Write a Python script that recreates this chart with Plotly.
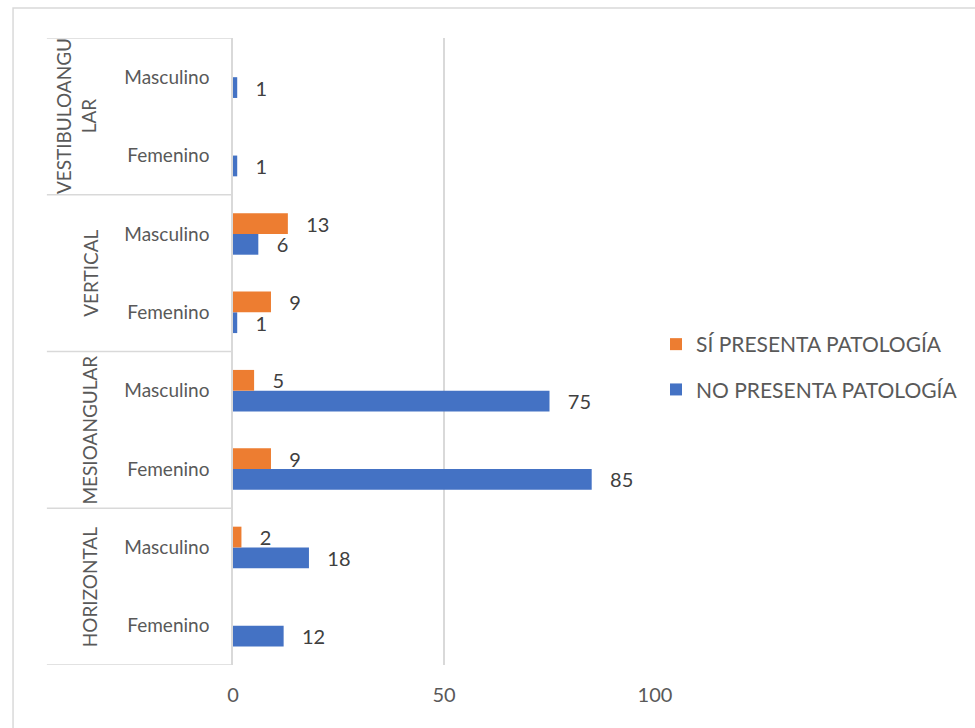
import plotly.graph_objects as go

# Impaction type (group) and sex (sub-category), bottom to top
groups = ["HORIZONTAL", "MESIOANGULAR", "VERTICAL", "VESTIBULOANGULAR"]
group_labels = ["HORIZONTAL", "MESIOANGULAR", "VERTICAL", "VESTIBULOANGU<br>LAR"]
sexes = ["Femenino", "Masculino"]

# Counts per group, in the order Femenino, Masculino
no_patologia = {
    "HORIZONTAL": [12, 18],
    "MESIOANGULAR": [85, 75],
    "VERTICAL": [1, 6],
    "VESTIBULOANGULAR": [1, 1],
}
si_patologia = {
    "HORIZONTAL": [None, 2],
    "MESIOANGULAR": [9, 5],
    "VERTICAL": [9, 13],
    "VESTIBULOANGULAR": [None, None],
}

x_ticks = [0, 50, 100]

cat_keys = [f"{g}|{s}" for g in groups for s in sexes]
cat_text = [s for g in groups for s in sexes]
no_vals = [v for g in groups for v in no_patologia[g]]
si_vals = [v for g in groups for v in si_patologia[g]]

FONT = "Lato"
BLUE = "#4472C4"
ORANGE = "#ED7D31"
GRID = "#D9D9D9"
AXIS_TXT = "#595959"
LABEL_TXT = "#404040"

PAD = "\u00a0\u00a0\u00a0"

fig = go.Figure()
fig.add_trace(go.Bar(
    y=cat_keys, x=no_vals, orientation="h", name="NO PRESENTA PATOLOGÍA",
    marker=dict(color=BLUE, line=dict(width=0)),
    texttemplate=PAD + "%{x}", textposition="outside", constraintext="none",
    textfont=dict(family=FONT, size=20, color=LABEL_TXT),
    cliponaxis=False, legendgroup="no", legendrank=2, hoverinfo="skip",
))
fig.add_trace(go.Bar(
    y=cat_keys, x=si_vals, orientation="h", name="SÍ PRESENTA PATOLOGÍA",
    marker=dict(color=ORANGE, line=dict(width=0)),
    texttemplate=PAD + "%{x}", textposition="outside", constraintext="none",
    textfont=dict(family=FONT, size=20, color=LABEL_TXT),
    cliponaxis=False, legendgroup="si", legendrank=1, hoverinfo="skip",
))

# Plot area geometry (pixels)
W, H = 975, 728
L, R, T, B = 233, 318, 38, 63
pw = W - L - R
ph = H - T - B


def px_x(x):
    return (x - L) / pw


def px_y(y):
    return (H - B - y) / ph


shapes = []
# outer chart frame
shapes.append(dict(type="rect", xref="paper", yref="paper",
                   x0=px_x(12), x1=px_x(990), y0=px_y(740), y1=px_y(8),
                   line=dict(color=GRID, width=1.5), layer="below"))
# group separators of the category axis
for yb in [-0.5, 1.5, 3.5, 5.5, 7.5]:
    shapes.append(dict(type="line", xref="paper", yref="y",
                       x0=px_x(46), x1=0, y0=yb, y1=yb,
                       line=dict(color=GRID, width=1.5)))

annotations = []
for i, lab in enumerate(group_labels):
    two_line = "<br>" in lab
    annotations.append(dict(
        text=lab, xref="paper", yref="y",
        x=px_x(76 if two_line else 89), y=2 * i + 0.5,
        showarrow=False, textangle=-90, xanchor="center", yanchor="middle",
        font=dict(family=FONT, size=19, color=AXIS_TXT),
    ))

fig.update_layout(
    width=W, height=H,
    margin=dict(l=L, r=R, t=T, b=B, pad=0),
    paper_bgcolor="white", plot_bgcolor="white",
    barmode="group", bargap=0.47, bargroupgap=0,
    font=dict(family=FONT, size=20, color=AXIS_TXT),
    shapes=shapes, annotations=annotations,
    legend=dict(
        x=px_x(658), y=px_y(367), xanchor="left", yanchor="middle",
        traceorder="grouped", tracegroupgap=15,
        font=dict(family=FONT, size=21, color=AXIS_TXT),
        bgcolor="rgba(0,0,0,0)",
    ),
    showlegend=True,
)
fig.update_xaxes(
    range=[0, 100], tickvals=x_ticks, ticktext=[str(t) for t in x_ticks],
    showgrid=True, gridcolor=GRID, gridwidth=1.5, zeroline=False,
    showline=False, ticks="", ticklabelstandoff=16, automargin=False,
    tickfont=dict(family=FONT, size=20, color=AXIS_TXT), fixedrange=True,
)
fig.update_yaxes(
    type="category", categoryorder="array", categoryarray=cat_keys,
    tickvals=cat_keys, ticktext=cat_text, range=[-0.5, 7.5],
    showgrid=False, zeroline=False, showline=True, linecolor=GRID, linewidth=1.5,
    ticks="", ticklabelstandoff=18, automargin=False,
    tickfont=dict(family=FONT, size=19, color=AXIS_TXT), fixedrange=True,
)

fig.write_html("out.html", config={"displayModeBar": False})
